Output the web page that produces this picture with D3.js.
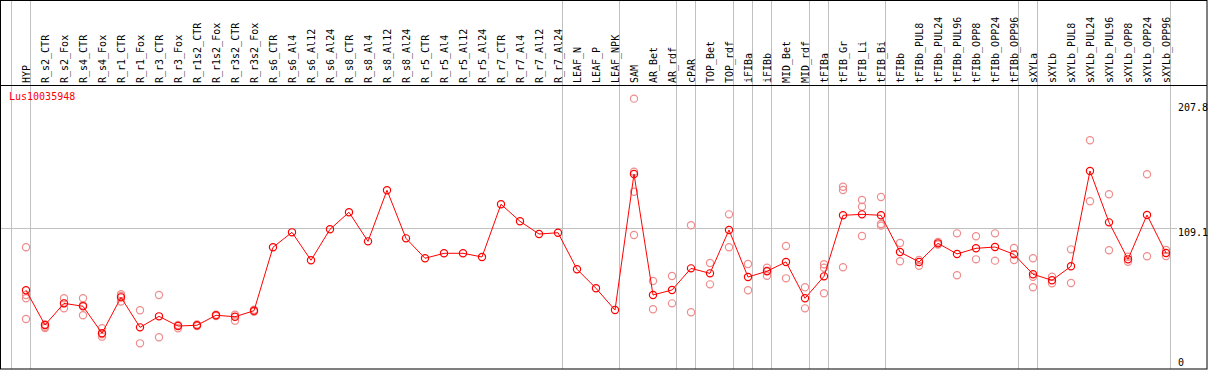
<!DOCTYPE html>
<html>
<head>
<meta charset="utf-8">
<script src="https://cdn.jsdelivr.net/npm/d3@7"></script>
<style>
  body { margin: 0; background: #fff; }
  text { font-family: "DejaVu Sans Mono", monospace; font-size: 10px; }
</style>
</head>
<body>
<div id="graph"></div>
<script>
const gene = "Lus10035948";

const categories = ["HYP", "R_s2_CTR", "R_s2_Fox", "R_s4_CTR", "R_s4_Fox", "R_r1_CTR", "R_r1_Fox",
  "R_r3_CTR", "R_r3_Fox", "R_r1s2_CTR", "R_r1s2_Fox", "R_r3s2_CTR", "R_r3s2_Fox", "R_s6_CTR",
  "R_s6_Al4", "R_s6_Al12", "R_s6_Al24", "R_s8_CTR", "R_s8_Al4", "R_s8_Al12", "R_s8_Al24",
  "R_r5_CTR", "R_r5_Al4", "R_r5_Al12", "R_r5_Al24", "R_r7_CTR", "R_r7_Al4", "R_r7_Al12", "R_r7_Al24",
  "LEAF_N", "LEAF_P", "LEAF_NPK", "SAM", "AR_Bet", "AR_rdf", "cPAR", "TOP_Bet", "TOP_rdf",
  "iFIBa", "iFIBb", "MID_Bet", "MID_rdf", "tFIBa", "tFIB_Gr", "tFIB_Li", "tFIB_Bi", "tFIBb",
  "tFIBb_PUL8", "tFIBb_PUL24", "tFIBb_PUL96", "tFIBb_OPP8", "tFIBb_OPP24", "tFIBb_OPP96",
  "sXYLa", "sXYLb", "sXYLb_PUL8", "sXYLb_PUL24", "sXYLb_PUL96", "sXYLb_OPP8", "sXYLb_OPP24", "sXYLb_OPP96"];

// number of columns in each tissue group (separated by grey lines)
const groupSizes = [1, 28, 3, 3, 1, 2, 1, 1, 2, 1, 3, 7, 1, 7];

const means = [61.6, 35.1, 51.6, 49.4, 28.8, 56.2, 33.3, 41.7, 34.3, 34.9,
  42.5, 41.4, 46.0, 94.4, 105.8, 84.5, 108.1, 121.1, 98.9, 137.9,
  101.2, 86.0, 89.8, 89.8, 87.0, 127.2, 114.2, 104.5, 105.5, 77.6,
  63.1, 46.5, 150.3, 58.0, 61.8, 78.3, 74.5, 107.6, 71.7, 76.1,
  83.2, 55.5, 72.2, 118.8, 119.5, 118.8, 90.8, 83.2, 97.4, 89.3,
  93.6, 94.6, 89.0, 73.8, 69.2, 79.9, 152.6, 113.4, 85.2, 119.0, 90.0];

const replicates = [
  [94.4, 58.0, 55.5, 39.7], [35.5, 33.8, 32.8], [55.5, 51.6, 47.8], [55.5, 50.2, 42.5],
  [32.6, 28.0, 26.2], [58.5, 57.2, 53.0], [46.3, 21.1], [58.0, 25.7], [35.1, 32.6],
  [35.5, 34.3], [43.0, 42.0], [43.0, 38.4], [46.8, 45.2],
  [], [], [], [], [], [], [], [], [], [], [], [], [], [], [], [], [], [], [],
  [207.8, 152.0, 136.8, 103.8], [68.7, 47.1], [72.5, 51.6], [111.2, 44.8], [82.4, 66.1],
  [119.5, 94.4], [81.6, 61.6], [78.8, 76.5, 72.7], [95.4, 70.7], [63.9, 47.8],
  [81.4, 78.8, 59.3], [140.6, 138.1, 79.1], [130.5, 125.3, 103.0], [132.7, 112.1, 110.9],
  [97.7, 83.7], [84.7, 80.3], [98.5, 96.5], [105.0, 73.0], [102.8, 85.2], [105.0, 84.2],
  [93.8, 84.7], [86.0, 71.9, 63.9], [71.9, 66.9], [92.8, 67.1], [176.0, 129.5],
  [134.8, 92.1], [87.2, 83.4], [150.1, 87.5], [92.3, 87.7]];

const yTicks = [207.8, 109.1, 0];
const yMax = 218.2;

const width = 1209;
const height = 370;
const right = 1207;
const headerY = 85;
const bottom = 369;

const svg = d3.select("#graph")
  .append("svg")
  .attr("width", width)
  .attr("height", height);

const xScale = d3.scalePoint()
  .domain(categories)
  .range([26, 1166]);

const step = xScale.step();

const yScale = d3.scaleLinear()
  .domain([0, yMax])
  .range([371, headerY]);

// group separators
let seps = [xScale(categories[0]) - step + 4.5];
let idx = -1;
groupSizes.forEach(function(n) {
  idx += n;
  seps.push(xScale(categories[idx]) + 4.5);
});

svg.selectAll("line.sep")
  .data(seps)
  .enter()
  .append("line")
  .attr("class", "sep")
  .attr("x1", d => d).attr("x2", d => d)
  .attr("y1", 0).attr("y2", bottom)
  .attr("stroke", "#c0c0c0")
  .attr("stroke-width", 1);

// mid line
svg.append("line")
  .attr("x1", 0).attr("x2", 1177)
  .attr("y1", Math.round(yScale(yTicks[1])) + 0.5)
  .attr("y2", Math.round(yScale(yTicks[1])) + 0.5)
  .attr("stroke", "#c0c0c0");

// header labels
svg.selectAll("text.cat")
  .data(categories)
  .enter()
  .append("text")
  .attr("class", "cat")
  .attr("transform", d => "translate(" + (xScale(d) + 4) + "," + (headerY - 2) + ") rotate(-90)")
  .attr("fill", "#000")
  .text(d => d);

// frame
svg.append("line")
  .attr("x1", 0).attr("x2", right)
  .attr("y1", headerY + 0.5).attr("y2", headerY + 0.5)
  .attr("stroke", "#000");

svg.append("rect")
  .attr("x", 0.5).attr("y", 0.5)
  .attr("width", right - 0.5).attr("height", bottom - 0.5)
  .attr("fill", "none")
  .attr("stroke", "#000");

// value labels on the right
svg.selectAll("text.tick")
  .data(yTicks)
  .enter()
  .append("text")
  .attr("class", "tick")
  .attr("x", 1178)
  .attr("y", d => Math.min(Math.max(yScale(d) + 8, headerY + 26), bottom - 3))
  .attr("fill", "#000")
  .text(d => d);

svg.append("text")
  .attr("x", 9)
  .attr("y", 100)
  .attr("fill", "red")
  .text(gene);

function marker(g, x, y, color) {
  g.append("circle")
    .attr("cx", x).attr("cy", y).attr("r", 3.6)
    .attr("fill", "none")
    .attr("stroke", color)
    .attr("stroke-width", 1.2);
}

// replicate points
const reps = svg.append("g");
replicates.forEach(function(vals, i) {
  vals.forEach(function(v) {
    marker(reps, xScale(categories[i]), yScale(v), "#f08c8c");
  });
});

// mean line
const line = d3.line()
  .x((d, i) => xScale(categories[i]))
  .y(d => yScale(d));

svg.append("path")
  .datum(means)
  .attr("d", line)
  .attr("fill", "none")
  .attr("stroke", "red")
  .attr("stroke-width", 1);

const meanG = svg.append("g");
means.forEach(function(v, i) {
  marker(meanG, xScale(categories[i]), yScale(v), "red");
});
</script>
</body>
</html>
